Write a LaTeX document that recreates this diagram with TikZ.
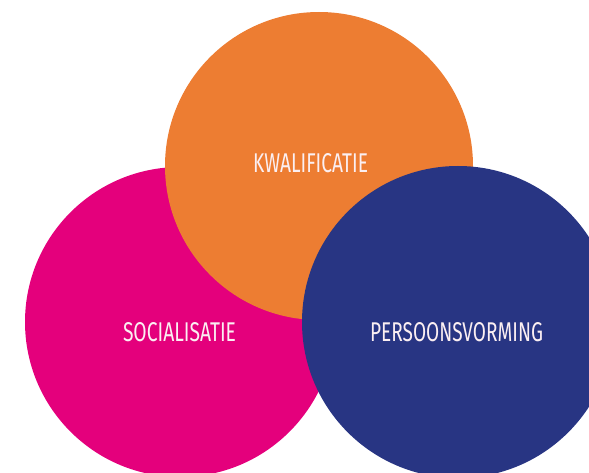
\documentclass[tikz,border=0pt]{standalone}
\usepackage{fontspec}
\newfontfamily\lblfont{Fira Sans}
\definecolor{cmag}{HTML}{E4007C}
\definecolor{corange}{HTML}{ED7D32}
\definecolor{cnavy}{HTML}{283583}
\definecolor{ctext}{HTML}{FBEFF2}
\tikzset{
  blob/.style={circle, inner sep=0pt, minimum size=310pt, draw=none},
  lbl/.style={inner sep=0pt, text=ctext, font=\lblfont}
}
\begin{document}
\begin{tikzpicture}[x=1pt,y=-1pt]
\useasboundingbox (0,0) rectangle (589,473);
\clip (0,0) rectangle (589,473);
\node[blob, fill=cmag] (soc) at (180,322) {};
\node[blob, fill=corange, minimum size=308pt] (kwa) at (319,166) {};
\node[blob, fill=cnavy, minimum size=312pt] (per) at (458,322) {};
\node[lbl] (tkwa) at (310.5,163.5) {\resizebox{115pt}{19pt}{KWALIFICATIE}};
\node[lbl] (tsoc) at (179.5,332.5) {\resizebox{113pt}{19pt}{SOCIALISATIE}};
\node[lbl] (tper) at (456.5,332.5) {\resizebox{173pt}{19pt}{PERSOONSVORMING}};
\end{tikzpicture}
\end{document}
